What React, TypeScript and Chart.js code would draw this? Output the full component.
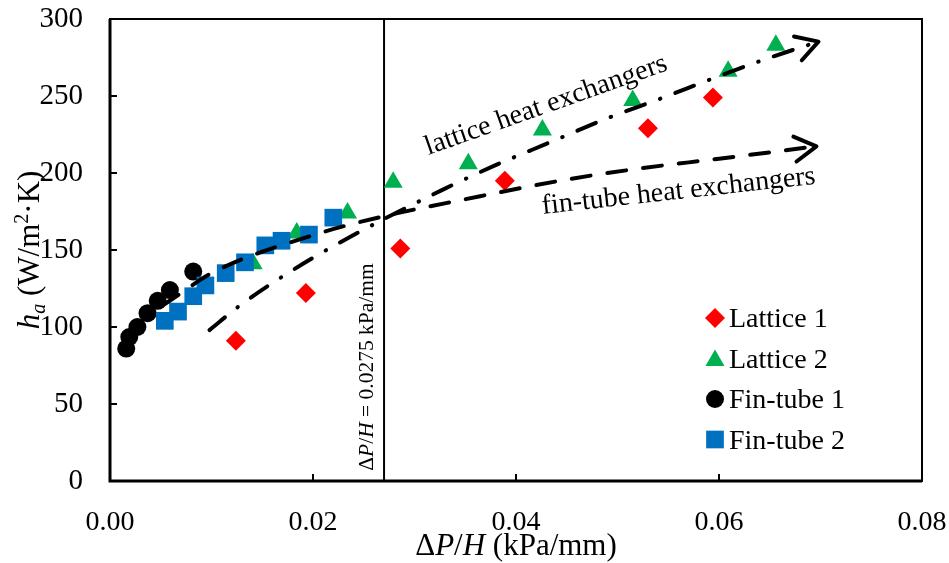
import React, { useEffect, useRef } from "react";
import { Chart, registerables } from "chart.js";

Chart.register(...registerables);

// ---------- data ----------
const xTicks = [0, 0.02, 0.04, 0.06, 0.08];
const yTicks = [0, 50, 100, 150, 200, 250, 300];

const lattice1X = [0.0124, 0.0193, 0.0286, 0.0389, 0.053, 0.0594];
const lattice1Y = [91, 122, 151, 195, 229, 249];

const lattice2X = [0.0141, 0.0184, 0.0234, 0.0279, 0.0353, 0.0426, 0.0515, 0.0609, 0.0656];
const lattice2Y = [141, 161, 174, 194, 206, 228, 247, 266, 283];

const finTube1X = [0.0016, 0.0019, 0.0027, 0.0037, 0.0047, 0.0059, 0.0082];
const finTube1Y = [86, 93.5, 100, 109, 117, 124, 136];

const finTube2X = [0.0054, 0.0067, 0.0082, 0.0094, 0.0114, 0.0133, 0.0153, 0.0169, 0.0196, 0.022];
const finTube2Y = [104, 110, 120, 127, 135, 142, 153, 156, 160, 171];

const latticeTrendX = [0.0098, 0.0128, 0.0176, 0.0226, 0.0328, 0.0381, 0.0435, 0.0489, 0.0542, 0.0596, 0.065, 0.0698];
const latticeTrendY = [98, 114, 135.3, 154.7, 189.2, 205.4, 220.3, 235.3, 248.2, 261.9, 274.9, 285.3];

const finTrendX = [0.0052, 0.0069, 0.01, 0.0207, 0.0269, 0.0348, 0.0453, 0.0525, 0.0598, 0.0696];
const finTrendY = [114, 121.6, 135, 161, 171.8, 182.7, 196.1, 203.2, 209.1, 217.3];

const refLineX = 0.027;

const legendLabels = ["Lattice 1", "Lattice 2", "Fin-tube 1", "Fin-tube 2"];
const latticeLabel = "lattice heat exchangers";
const finLabel = "fin-tube heat exchangers";

// ---------- styles ----------
const FONT = '"Liberation Serif", "Times New Roman", serif';
const RED = "#FF0000";
const GREEN = "#00B050";
const BLACK = "#000000";
const BLUE = "#0070C0";

type Seg = { text: string; italic?: boolean; scale?: number; dy?: number };

function drawRich(ctx: CanvasRenderingContext2D, segs: Seg[], cx: number, cy: number, size: number, angle: number) {
  ctx.save();
  ctx.translate(cx, cy);
  ctx.rotate(angle);
  const fontOf = (s: Seg) => `${s.italic ? "italic " : ""}${(s.scale || 1) * size}px ${FONT}`;
  let total = 0;
  for (const s of segs) {
    ctx.font = fontOf(s);
    total += ctx.measureText(s.text).width;
  }
  let x = -total / 2;
  ctx.textBaseline = "alphabetic";
  ctx.textAlign = "left";
  ctx.fillStyle = BLACK;
  const baseY = size * 0.33;
  for (const s of segs) {
    ctx.font = fontOf(s);
    ctx.fillText(s.text, x, baseY + (s.dy || 0) * size);
    x += ctx.measureText(s.text).width;
  }
  ctx.restore();
}

function drawMarker(ctx: CanvasRenderingContext2D, style: string, x: number, y: number, r: number, color: string) {
  ctx.save();
  ctx.fillStyle = color;
  ctx.beginPath();
  if (style === "rectRot") {
    ctx.moveTo(x - r, y);
    ctx.lineTo(x, y - r);
    ctx.lineTo(x + r, y);
    ctx.lineTo(x, y + r);
  } else if (style === "triangle") {
    ctx.moveTo(x, y - r);
    ctx.lineTo(x + r * Math.sin(Math.PI / 3), y + r / 2);
    ctx.lineTo(x - r * Math.sin(Math.PI / 3), y + r / 2);
  } else if (style === "circle") {
    ctx.arc(x, y, r, 0, Math.PI * 2);
  } else {
    const s = r * Math.SQRT1_2;
    ctx.rect(x - s, y - s, 2 * s, 2 * s);
  }
  ctx.closePath();
  ctx.fill();
  ctx.restore();
}

const pts = (xs: number[], ys: number[]) => xs.map((x, i) => ({ x, y: ys[i] }));

export default function App() {
  const ref = useRef<HTMLCanvasElement>(null);

  useEffect(() => {
    document.body.style.margin = "0";
    const canvas = ref.current!;

    const markerStyles = [
      { style: "rectRot", r: 10, color: RED },
      { style: "triangle", r: 11, color: GREEN },
      { style: "circle", r: 9, color: BLACK },
      { style: "rect", r: 12.5, color: BLUE },
    ];

    const overlay = {
      id: "overlay",
      afterDatasetsDraw(chart: any) {
        const ctx: CanvasRenderingContext2D = chart.ctx;
        for (const i of [0, 1]) {
          const meta = chart.getDatasetMeta(i);
          const n = meta.data.length;
          const a = meta.data[n - 2];
          const b = meta.data[n - 1];
          const ang = Math.atan2(b.y - a.y, b.x - a.x);
          const L = 25;
          const spread = (30 * Math.PI) / 180;
          ctx.save();
          ctx.strokeStyle = BLACK;
          ctx.lineWidth = 4;
          ctx.lineCap = "round";
          ctx.lineJoin = "round";
          ctx.beginPath();
          ctx.moveTo(b.x - L * Math.cos(ang - spread), b.y - L * Math.sin(ang - spread));
          ctx.lineTo(b.x, b.y);
          ctx.lineTo(b.x - L * Math.cos(ang + spread), b.y - L * Math.sin(ang + spread));
          ctx.stroke();
          ctx.restore();
        }
      },
      afterDraw(chart: any) {
        const ctx: CanvasRenderingContext2D = chart.ctx;
        const ca = chart.chartArea;
        const xs = chart.scales.x;
        const ys = chart.scales.y;

        ctx.save();
        ctx.strokeStyle = BLACK;
        ctx.lineWidth = 2;
        ctx.strokeRect(ca.left, ca.top, ca.right - ca.left, ca.bottom - ca.top);
        ctx.lineWidth = 3;
        ctx.beginPath();
        ctx.moveTo(ca.left, ca.top);
        ctx.lineTo(ca.left, ca.bottom);
        ctx.lineTo(ca.right, ca.bottom);
        ctx.stroke();
        ctx.lineWidth = 2;
        ctx.beginPath();
        for (const v of xTicks) {
          const px = xs.getPixelForValue(v);
          ctx.moveTo(px, ca.bottom);
          ctx.lineTo(px, ca.bottom - 7);
        }
        for (const v of yTicks) {
          const py = ys.getPixelForValue(v);
          ctx.moveTo(ca.left, py);
          ctx.lineTo(ca.left + 7, py);
        }
        ctx.stroke();
        ctx.restore();

        drawRich(
          ctx,
          [
            { text: "\u0394" },
            { text: "P", italic: true },
            { text: "/" },
            { text: "H", italic: true },
            { text: " (kPa/mm)" },
          ],
          (ca.left + ca.right) / 2,
          545,
          31,
          0
        );
        drawRich(
          ctx,
          [
            { text: "h", italic: true },
            { text: "a", italic: true, scale: 0.65, dy: 0.2 },
            { text: " (W/m" },
            { text: "2", scale: 0.65, dy: -0.35 },
            { text: "\u00B7K)" },
          ],
          29,
          (ca.top + ca.bottom) / 2,
          31,
          -Math.PI / 2
        );

        drawRich(ctx, [{ text: latticeLabel }], xs.getPixelForValue(0.0429), ys.getPixelForValue(245), 28, (-19.5 * Math.PI) / 180);
        drawRich(ctx, [{ text: finLabel }], xs.getPixelForValue(0.056), ys.getPixelForValue(189.2), 28, (-6.3 * Math.PI) / 180);
        drawRich(
          ctx,
          [
            { text: "\u0394" },
            { text: "P", italic: true },
            { text: "/" },
            { text: "H", italic: true },
            { text: " = 0.0275 kPa/mm" },
          ],
          xs.getPixelForValue(refLineX) - 18,
          ys.getPixelForValue(74),
          21.5,
          -Math.PI / 2
        );

        const lx = 715;
        const ly0 = 318;
        const step = 40.5;
        legendLabels.forEach((lab, i) => {
          const m = markerStyles[i];
          const y = ly0 + i * step;
          drawMarker(ctx, m.style, lx, y + (m.style === "triangle" ? 2 : 0), m.r, m.color);
          ctx.save();
          ctx.font = `28px ${FONT}`;
          ctx.fillStyle = BLACK;
          ctx.textAlign = "left";
          ctx.textBaseline = "alphabetic";
          ctx.fillText(lab, lx + 14, y + 28 * 0.33);
          ctx.restore();
        });
      },
    };

    const trendCommon = {
      showLine: true,
      pointRadius: 0,
      borderColor: BLACK,
      borderWidth: 4,
      borderCapStyle: "round",
      fill: false,
      cubicInterpolationMode: "monotone",
    };

    const chart = new Chart(canvas, {
      type: "scatter",
      data: {
        datasets: [
          { ...trendCommon, label: "lattice trend", data: pts(latticeTrendX, latticeTrendY), borderDash: [20, 16, 0.5, 16], order: 0 } as any,
          { ...trendCommon, label: "fin trend", data: pts(finTrendX, finTrendY), borderDash: [19, 17], order: 0 } as any,
          {
            label: "ref",
            data: [
              { x: refLineX, y: yTicks[0] },
              { x: refLineX, y: yTicks[yTicks.length - 1] },
            ],
            showLine: true,
            pointRadius: 0,
            borderColor: BLACK,
            borderWidth: 2,
            order: 6,
          } as any,
          { label: legendLabels[3], data: pts(finTube2X, finTube2Y), pointStyle: "rect", pointRadius: 12.5, backgroundColor: BLUE, pointBorderWidth: 0, borderWidth: 0, order: 1 } as any,
          { label: legendLabels[2], data: pts(finTube1X, finTube1Y), pointStyle: "circle", pointRadius: 9, backgroundColor: BLACK, pointBorderWidth: 0, borderWidth: 0, order: 2 } as any,
          { label: legendLabels[1], data: pts(lattice2X, lattice2Y), pointStyle: "triangle", pointRadius: 11, backgroundColor: GREEN, pointBorderWidth: 0, borderWidth: 0, order: 3 } as any,
          { label: legendLabels[0], data: pts(lattice1X, lattice1Y), pointStyle: "rectRot", pointRadius: 10, backgroundColor: RED, pointBorderWidth: 0, borderWidth: 0, order: 4 } as any,
        ],
      },
      options: {
        responsive: false,
        animation: false,
        events: [],
        layout: { padding: { left: 0, top: 19, right: 27, bottom: 0 } },
        plugins: { legend: { display: false }, tooltip: { enabled: false }, title: { display: false } },
        scales: {
          x: {
            type: "linear",
            min: 0,
            max: 0.08,
            grid: { display: false },
            border: { display: false },
            afterBuildTicks: (s: any) => {
              s.ticks = xTicks.map((v) => ({ value: v }));
            },
            afterFit: (s: any) => {
              s.height = 82;
              s.paddingLeft = 0;
              s.paddingRight = 0;
            },
            ticks: {
              padding: 17,
              color: BLACK,
              font: { family: FONT, size: 28 },
              maxRotation: 0,
              callback: (v: any) => Number(v).toFixed(2),
            },
          },
          y: {
            type: "linear",
            min: 0,
            max: 300,
            grid: { display: false },
            border: { display: false },
            afterBuildTicks: (s: any) => {
              s.ticks = yTicks.map((v) => ({ value: v }));
            },
            afterFit: (s: any) => {
              s.width = 110;
              s.paddingTop = 0;
              s.paddingBottom = 0;
            },
            ticks: {
              padding: 19,
              color: BLACK,
              font: { family: FONT, size: 29 },
              callback: (v: any) => String(v),
            },
          },
        },
      } as any,
      plugins: [overlay],
    });

    return () => chart.destroy();
  }, []);

  return (
    <div style={{ width: 949, height: 563 }}>
      <canvas ref={ref} width={949} height={563} style={{ display: "block" }} />
    </div>
  );
}
